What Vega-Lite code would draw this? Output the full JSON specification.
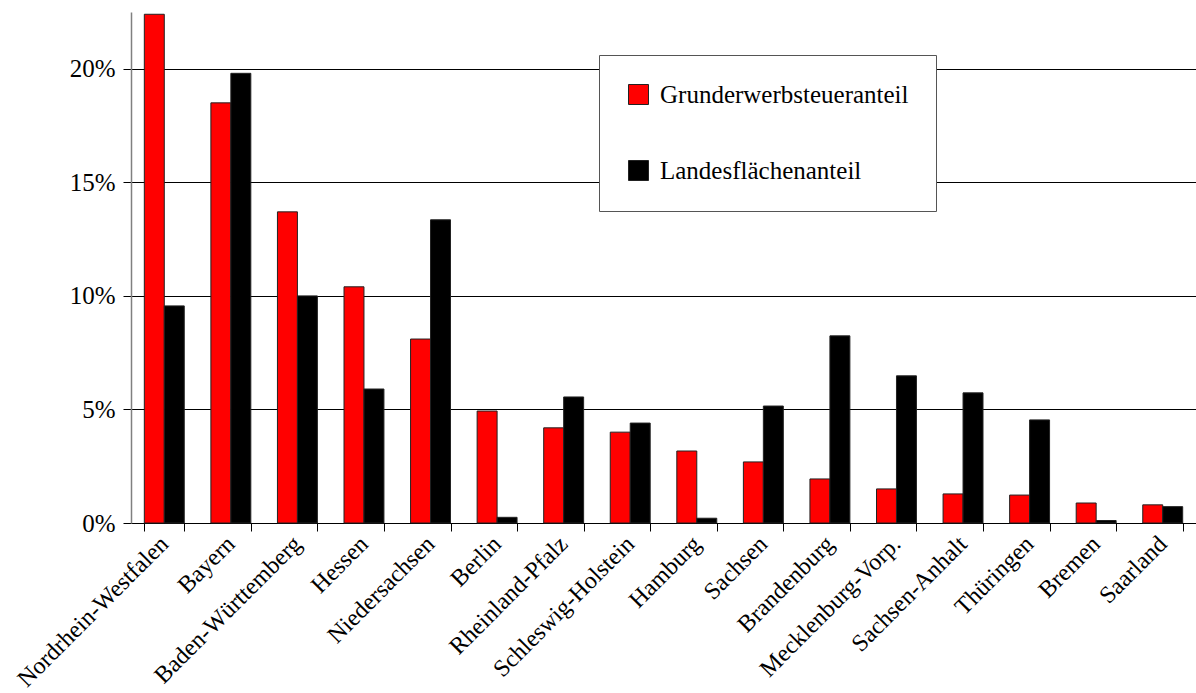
{
  "$schema": "https://vega.github.io/schema/vega-lite/v6.json",
  "autosize": "none",
  "width": 1065,
  "height": 511,
  "padding": {"left": 131, "top": 12, "right": 0, "bottom": 170},
  "background": "white",
  "config": {
    "view": {"stroke": null},
    "font": "Liberation Serif"
  },
  "data": {
    "values": [
      {"land": "Nordrhein-Westfalen", "serie": "Grunderwerbsteueranteil", "wert": 0.224},
      {"land": "Nordrhein-Westfalen", "serie": "Landesflächenanteil", "wert": 0.0956},
      {"land": "Bayern", "serie": "Grunderwerbsteueranteil", "wert": 0.185},
      {"land": "Bayern", "serie": "Landesflächenanteil", "wert": 0.198},
      {"land": "Baden-Württemberg", "serie": "Grunderwerbsteueranteil", "wert": 0.137},
      {"land": "Baden-Württemberg", "serie": "Landesflächenanteil", "wert": 0.100},
      {"land": "Hessen", "serie": "Grunderwerbsteueranteil", "wert": 0.104},
      {"land": "Hessen", "serie": "Landesflächenanteil", "wert": 0.059},
      {"land": "Niedersachsen", "serie": "Grunderwerbsteueranteil", "wert": 0.081},
      {"land": "Niedersachsen", "serie": "Landesflächenanteil", "wert": 0.1335},
      {"land": "Berlin", "serie": "Grunderwerbsteueranteil", "wert": 0.0493},
      {"land": "Berlin", "serie": "Landesflächenanteil", "wert": 0.0025},
      {"land": "Rheinland-Pfalz", "serie": "Grunderwerbsteueranteil", "wert": 0.0419},
      {"land": "Rheinland-Pfalz", "serie": "Landesflächenanteil", "wert": 0.0555},
      {"land": "Schleswig-Holstein", "serie": "Grunderwerbsteueranteil", "wert": 0.040},
      {"land": "Schleswig-Holstein", "serie": "Landesflächenanteil", "wert": 0.044},
      {"land": "Hamburg", "serie": "Grunderwerbsteueranteil", "wert": 0.0317},
      {"land": "Hamburg", "serie": "Landesflächenanteil", "wert": 0.0021},
      {"land": "Sachsen", "serie": "Grunderwerbsteueranteil", "wert": 0.0269},
      {"land": "Sachsen", "serie": "Landesflächenanteil", "wert": 0.0515},
      {"land": "Brandenburg", "serie": "Grunderwerbsteueranteil", "wert": 0.0194},
      {"land": "Brandenburg", "serie": "Landesflächenanteil", "wert": 0.0824},
      {"land": "Mecklenburg-Vorp.", "serie": "Grunderwerbsteueranteil", "wert": 0.015},
      {"land": "Mecklenburg-Vorp.", "serie": "Landesflächenanteil", "wert": 0.0648},
      {"land": "Sachsen-Anhalt", "serie": "Grunderwerbsteueranteil", "wert": 0.0128},
      {"land": "Sachsen-Anhalt", "serie": "Landesflächenanteil", "wert": 0.0573},
      {"land": "Thüringen", "serie": "Grunderwerbsteueranteil", "wert": 0.0123},
      {"land": "Thüringen", "serie": "Landesflächenanteil", "wert": 0.0454},
      {"land": "Bremen", "serie": "Grunderwerbsteueranteil", "wert": 0.0088},
      {"land": "Bremen", "serie": "Landesflächenanteil", "wert": 0.0011},
      {"land": "Saarland", "serie": "Grunderwerbsteueranteil", "wert": 0.008},
      {"land": "Saarland", "serie": "Landesflächenanteil", "wert": 0.0072}
    ]
  },
  "mark": {"type": "bar", "stroke": "#222222", "strokeWidth": 1},
  "encoding": {
    "x": {
      "field": "land",
      "type": "nominal",
      "sort": null,
      "title": null,
      "scale": {"paddingInner": 0.4, "paddingOuter": 0.2},
      "axis": {
        "labelAngle": -45,
        "labelAlign": "right",
        "labelBaseline": "middle",
        "labelFont": "Liberation Serif",
        "labelFontSize": 24,
        "labelColor": "black",
        "labelPadding": 9,
        "labelLimit": 0,
        "tickBand": "extent",
        "tickColor": "black",
        "tickSize": 8,
        "domainColor": "black",
        "labelOverlap": false
      }
    },
    "xOffset": {"field": "serie", "type": "nominal", "sort": ["Grunderwerbsteueranteil", "Landesflächenanteil"]},
    "y": {
      "field": "wert",
      "type": "quantitative",
      "title": null,
      "scale": {"domain": [0, 0.225], "nice": false},
      "axis": {
        "values": [0, 0.05, 0.1, 0.15, 0.2],
        "format": ".0%",
        "labelFont": "Liberation Serif",
        "labelFontSize": 25,
        "labelColor": "black",
        "labelPadding": 8,
        "grid": true,
        "gridColor": "black",
        "gridWidth": 1,
        "tickColor": "black",
        "tickSize": 8,
        "domainColor": "#808080",
        "domainWidth": 1.5
      }
    },
    "color": {
      "field": "serie",
      "type": "nominal",
      "scale": {"domain": ["Grunderwerbsteueranteil", "Landesflächenanteil"], "range": ["#ff0000", "#000000"]},
      "legend": {
        "title": null,
        "orient": "none",
        "legendX": 468,
        "legendY": 43,
        "labelFont": "Liberation Serif",
        "labelFontSize": 25,
        "labelColor": "black",
        "symbolType": "square",
        "symbolSize": 400,
        "symbolStrokeColor": "#222222",
        "symbolStrokeWidth": 1,
        "rowPadding": 50,
        "labelOffset": 9,
        "padding": 27,
        "strokeColor": "#555555",
        "fillColor": "white",
        "labelLimit": 0
      }
    }
  }
}
